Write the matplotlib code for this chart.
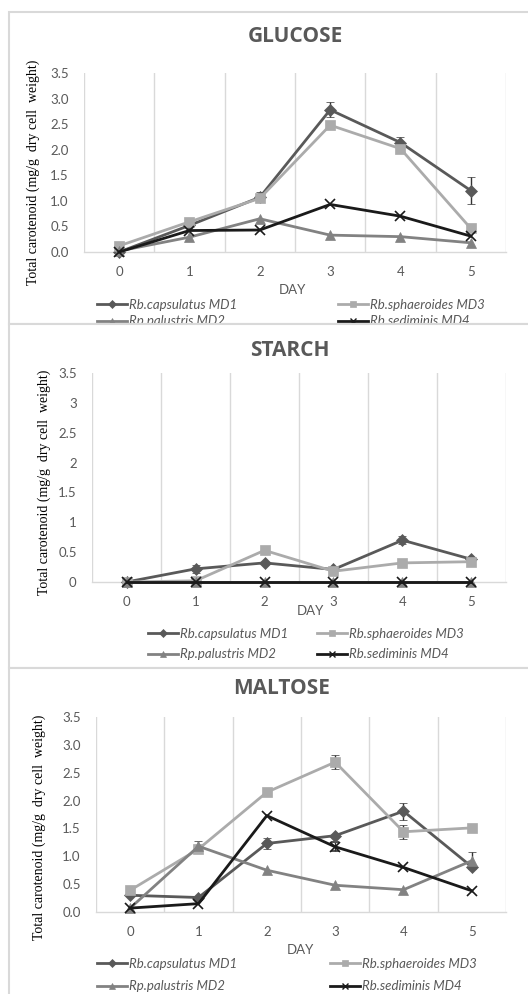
import matplotlib
matplotlib.use("Agg")
import matplotlib.pyplot as plt
from matplotlib.lines import Line2D
from matplotlib.patches import Rectangle
import numpy as np

W, H = 528, 994
DPI = 100

days = [0, 1, 2, 3, 4, 5]
series_names = ["Rb.capsulatus MD1", "Rp.palustris MD2", "Rb.sphaeroides MD3", "Rb.sediminis MD4"]

# GLUCOSE
glu_md1 = [0.00, 0.52, 1.07, 2.78, 2.14, 1.20]
glu_md1_err = [0.0, 0.03, 0.10, 0.15, 0.10, 0.26]
glu_md2 = [0.02, 0.29, 0.65, 0.33, 0.30, 0.18]
glu_md2_err = [0.0, 0.0, 0.0, 0.0, 0.0, 0.0]
glu_md3 = [0.12, 0.59, 1.05, 2.48, 2.02, 0.46]
glu_md3_err = [0.0, 0.0, 0.0, 0.0, 0.0, 0.0]
glu_md4 = [0.00, 0.42, 0.43, 0.93, 0.70, 0.31]
glu_md4_err = [0.0, 0.0, 0.0, 0.0, 0.0, 0.0]

# STARCH
sta_md1 = [0.00, 0.22, 0.32, 0.21, 0.70, 0.38]
sta_md1_err = [0.0, 0.07, 0.0, 0.0, 0.07, 0.0]
sta_md2 = [0.00, 0.00, 0.00, 0.00, 0.00, 0.00]
sta_md2_err = [0.0, 0.0, 0.0, 0.0, 0.0, 0.0]
sta_md3 = [0.00, 0.02, 0.53, 0.18, 0.32, 0.34]
sta_md3_err = [0.0, 0.0, 0.0, 0.0, 0.0, 0.0]
sta_md4 = [0.00, 0.00, 0.00, 0.00, 0.00, 0.00]
sta_md4_err = [0.0, 0.0, 0.0, 0.0, 0.0, 0.0]

# MALTOSE
mal_md1 = [0.30, 0.26, 1.23, 1.37, 1.81, 0.81]
mal_md1_err = [0.0, 0.0, 0.10, 0.0, 0.15, 0.0]
mal_md2 = [0.07, 1.18, 0.75, 0.48, 0.40, 0.92]
mal_md2_err = [0.0, 0.10, 0.0, 0.0, 0.0, 0.15]
mal_md3 = [0.39, 1.13, 2.15, 2.69, 1.44, 1.51]
mal_md3_err = [0.0, 0.0, 0.0, 0.12, 0.13, 0.0]
mal_md4 = [0.07, 0.15, 1.73, 1.17, 0.80, 0.38]
mal_md4_err = [0.0, 0.0, 0.0, 0.08, 0.0, 0.0]

yticks = [0, 0.5, 1.0, 1.5, 2.0, 2.5, 3.0, 3.5]
ylabel = "Total carotenoid (mg/g  dry cell  weight)"
xlabel = "DAY"

colors = {"MD1": "#595959", "MD2": "#828282", "MD3": "#ABABAB", "MD4": "#1A1A1A"}
markers = {"MD1": "D", "MD2": "^", "MD3": "s", "MD4": "x"}
msizes = {"MD1": 6, "MD2": 7, "MD3": 7.5, "MD4": 7}

SANS = ["Lato", "DejaVu Sans"]
TITLE_FONT = ["Open Sans", "DejaVu Sans"]
SERIF = ["Liberation Serif", "DejaVu Serif"]
GRAY = "#595959"

fig = plt.figure(figsize=(W / DPI, H / DPI), dpi=DPI)


def fx(px):
    return px / W


def fy(py):
    return 1 - py / H


def rect_axes(l, t, r, b, z):
    return fig.add_axes([fx(l), fy(b), fx(r - l), (b - t) / H], zorder=z)


panels = [
    dict(title="GLUCOSE", data=[(glu_md1, glu_md1_err, "MD1"), (glu_md3, glu_md3_err, "MD3"),
                               (glu_md2, glu_md2_err, "MD2"), (glu_md4, glu_md4_err, "MD4")],
         box=(9, 12, 540, 324), ax=(84, 73, 506, 252), fmt="%.1f",
         title_xy=(295, 36), day_xy=(292, 290), ylab_xy=(33, 172),
         leg1=(97, 304), leg2=(338, 304), rowgap=18),
    dict(title="STARCH", data=[(sta_md1, sta_md1_err, "MD1"), (sta_md3, sta_md3_err, "MD3"),
                              (sta_md2, sta_md2_err, "MD2"), (sta_md4, sta_md4_err, "MD4")],
         box=(9, 324, 540, 668), ax=(92, 373, 506, 582), fmt="%g",
         title_xy=(290, 350), day_xy=(310, 611), ylab_xy=(44, 482),
         leg1=(148, 633), leg2=(317, 633), rowgap=22),
    dict(title="MALTOSE", data=[(mal_md1, mal_md1_err, "MD1"), (mal_md3, mal_md3_err, "MD3"),
                               (mal_md2, mal_md2_err, "MD2"), (mal_md4, mal_md4_err, "MD4")],
         box=(9, 668, 540, 1010), ax=(96, 717, 506, 912), fmt="%.1f",
         title_xy=(282, 688), day_xy=(300, 950), ylab_xy=(39, 827),
         leg1=(97, 963), leg2=(330, 963), rowgap=24),
]

for i, p in enumerate(panels):
    z = i * 10
    bl, bt, br, bb = p["box"]
    bg = rect_axes(bl, bt, br, bb, z)
    bg.set_xlim(0, 1)
    bg.set_ylim(0, 1)
    bg.axis("off")
    bg.add_patch(Rectangle((0, 0), 1, 1, transform=bg.transAxes, facecolor="white",
                           edgecolor="#D9D9D9", linewidth=1.5, clip_on=False))

    al, at, ar, ab = p["ax"]
    ax = rect_axes(al, at, ar, ab, z + 1)
    ax.set_facecolor("none")
    for vals, errs, key in p["data"]:
        errs_arr = np.array(errs)
        ax.errorbar(days, vals, yerr=np.where(errs_arr > 0, errs_arr, np.nan),
                    color=colors[key], marker=markers[key], markersize=msizes[key],
                    markeredgewidth=1.2 if key == "MD4" else 0.5, linewidth=2.0,
                    elinewidth=1.0, capsize=3, capthick=1.0, ecolor="#333333",
                    zorder=3, clip_on=False)
    ax.set_xlim(-0.5, 5.5)
    ax.set_ylim(0, 3.5)
    ax.set_xticks(days)
    ax.set_xticks(np.arange(-0.5, 6.0, 1.0), minor=True)
    ax.set_yticks(yticks)
    ax.set_yticklabels([p["fmt"] % v for v in yticks])
    ax.grid(True, which="minor", axis="x", color="#D9D9D9", linewidth=1.0)
    ax.grid(False, which="major")
    for s in ["top", "right", "left"]:
        ax.spines[s].set_visible(False)
    ax.spines["bottom"].set_color("#D9D9D9")
    ax.spines["bottom"].set_linewidth(1.0)
    ax.tick_params(which="both", length=0)
    ax.tick_params(axis="y", pad=11)
    ax.tick_params(axis="x", pad=10)
    for lab in ax.get_xticklabels() + ax.get_yticklabels():
        lab.set_family(SANS)
        lab.set_fontsize(9.5)
        lab.set_color(GRAY)

    tx, ty = p["title_xy"]
    fig.text(fx(tx), fy(ty), p["title"], ha="center", va="center", fontsize=15,
             fontweight="bold", family=TITLE_FONT, color=GRAY, zorder=z + 2)
    dx, dy = p["day_xy"]
    fig.text(fx(dx), fy(dy), xlabel, ha="center", va="center", fontsize=9.5,
             family=SANS, color=GRAY, zorder=z + 2)
    lx, ly = p["ylab_xy"]
    fig.text(fx(lx), fy(ly), ylabel, ha="center", va="center", rotation=90,
             fontsize=10, family=SERIF, color="#000000", zorder=z + 2)

    keys_col = [["MD1", "MD2"], ["MD3", "MD4"]]
    labels_col = [[series_names[0], series_names[1]], [series_names[2], series_names[3]]]
    for c, (lx0, ly0) in enumerate([p["leg1"], p["leg2"]]):
        handles = [Line2D([], [], color=colors[k], marker=markers[k],
                          markersize=msizes[k] * 0.65, linewidth=2.0,
                          markeredgewidth=1.0 if k == "MD4" else 0.5)
                   for k in keys_col[c]]
        fs = 9.5
        fs_px = fs * DPI / 72
        leg = ax.legend(handles, labels_col[c], loc="center left",
                        bbox_to_anchor=(fx(lx0), fy(ly0 + p["rowgap"] / 2)),
                        bbox_transform=fig.transFigure, frameon=False,
                        borderpad=0, borderaxespad=0, handlelength=30 / fs_px,
                        handletextpad=2 / fs_px,
                        labelspacing=(p["rowgap"] - fs_px * 1.0) / fs_px,
                        prop={"family": SANS, "style": "italic", "weight": "normal",
                              "size": fs})
        for t in leg.get_texts():
            t.set_color(GRAY)
        ax.legend_ = None
        ax.add_artist(leg)

fig.savefig("out.png", dpi=DPI)
